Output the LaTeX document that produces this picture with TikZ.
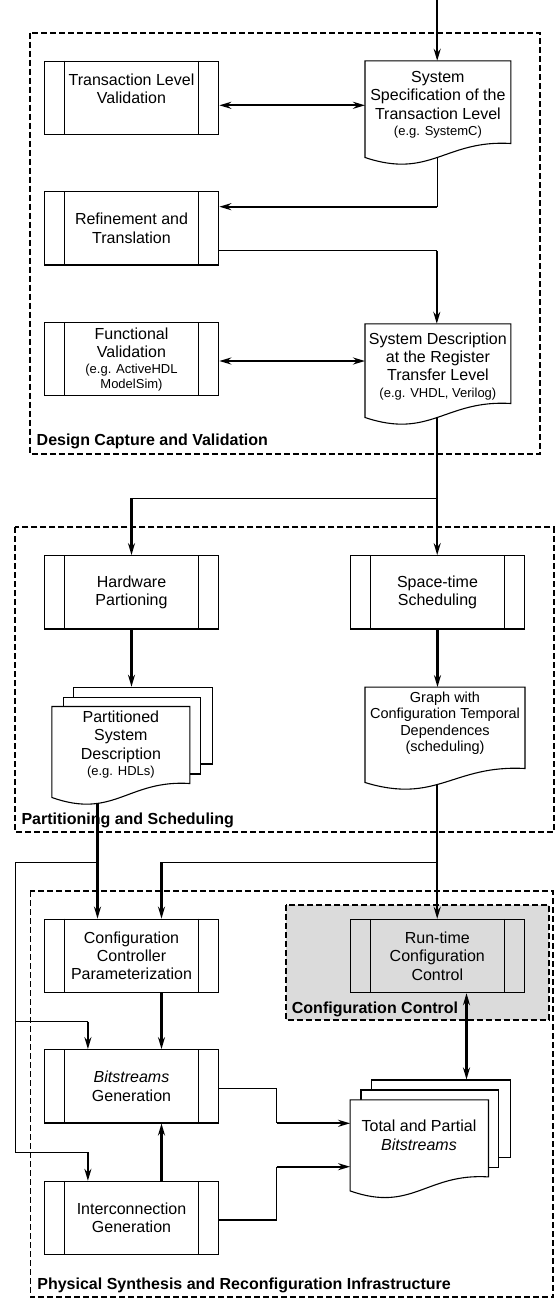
\documentclass[tikz,border=0pt]{standalone}
\usepackage{fontspec}
\setmainfont{Liberation Sans}
\usetikzlibrary{arrows.meta,calc}
\pgfdeclarelayer{bg}
\pgfsetlayers{bg,main}
\newcommand\smalltxt{\fontsize{13}{15}\selectfont}
\newcommand\wavedoc[1]{%
  \draw[docline] (#1.north west) -- (#1.north east) -- (#1.south east)
    .. controls ($(#1.south west)!0.55!(#1.south east)+(0,-4)$) and ($(#1.south west)!0.45!(#1.south east)+(0,36)$) .. ($(#1.south west)+(0,14)$) -- cycle;}
\tikzset{
  proc/.style={draw, line width=1.1pt, minimum width=174.5pt, minimum height=73.3pt, inner sep=0pt, align=center, font=\fontsize{16}{18.4}\selectfont},
  sheet/.style={draw, fill=white, line width=1.1pt, inner sep=0pt},
  docbox/.style={inner sep=0pt},
  docline/.style={draw, fill=white, line width=1.1pt},
  doctext/.style={align=center, inner sep=0pt, anchor=north, font=\fontsize{16}{18.4}\selectfont},
  grp/.style={draw, line width=1.8pt, dash pattern=on 6pt off 3pt},
  grplabel/.style={anchor=west, inner sep=0pt, font=\bfseries\fontsize{16}{18.4}\selectfont},
  thk/.style={line width=2.2pt},
  thn/.style={line width=1.2pt},
  sidebar/.style={line width=1.1pt}
}
\begin{document}
\begin{tikzpicture}[x=1pt,y=-1pt,>={Stealth[length=12pt,width=7pt,inset=4pt]}]
\useasboundingbox (0,0) rectangle (556,1299);

% process boxes
\node[proc] (tlv) at (131.5,97.7) {Transaction Level\\Validation\\\mbox{}};
\node[proc] (ref) at (131.5,228.3) {Refinement and\\Translation};
\node[proc] (fv) at (131.5,359.2) {Functional\\Validation\\[-2pt]{\smalltxt (e.g. ActiveHDL}\\[-4pt]{\smalltxt ModelSim)}};
\node[proc] (hw) at (131.5,592.3) {Hardware\\Partioning};
\node[proc] (st) at (437.5,592.3) {Space-time\\Scheduling};
\node[proc] (ccp) at (131.5,955.8) {Configuration\\Controller\\Parameterization};
\node[proc] (rt) at (437.3,956.0) {Run-time\\Configuration\\Control};
\node[proc] (bg) at (131.5,1086.3) {\textit{Bitstreams}\\Generation};
\node[proc] (ic) at (131.5,1218) {Interconnection\\Generation};
\foreach \n in {tlv,ref,fv,hw,st,ccp,rt,bg,ic}{
  \draw[sidebar] ([xshift=21pt]\n.north west) -- ([xshift=21pt]\n.south west);
  \draw[sidebar] ([xshift=-21pt]\n.north east) -- ([xshift=-21pt]\n.south east);
}

% documents
\node[docbox, minimum width=145.4pt, minimum height=82.3pt] (spec) at (437.9,102.15) {};
\wavedoc{spec}
\node[doctext] (spect) at (437.9,71) {System\\Specification of the\\Transaction Level\\[-2pt]{\smalltxt (e.g. SystemC)}};

\node[docbox, minimum width=145.4pt, minimum height=79.3pt] (rtl) at (437.9,363.65) {};
\wavedoc{rtl}
\node[doctext] (rtlt) at (437.9,332.3) {System Description\\at the Register\\Transfer Level\\[-2pt]{\smalltxt (e.g. VHDL, Verilog)}};

\node[docbox, minimum width=159.6pt, minimum height=81pt] (graph) at (445,727.8) {};
\wavedoc{graph}
\node[doctext, font=\fontsize{14.5}{16.5}\selectfont] (grapht) at (445,691.5) {Graph with\\Configuration Temporal\\Dependences\\(scheduling)};

\node[sheet, minimum width=138.3pt, minimum height=76.7pt] (partb) at (142.95,725.65) {};
\node[sheet, minimum width=137.2pt, minimum height=76.7pt] (partm) at (131.7,735.65) {};
\node[docbox, minimum width=137.6pt, minimum height=76.6pt] (partf) at (120.9,745) {};
\wavedoc{partf}
\node[doctext] (partt) at (120.9,710.7) {Partitioned\\System\\Description\\[-2pt]{\smalltxt (e.g. HDLs)}};

\node[sheet, minimum width=139pt, minimum height=77.3pt] (totb) at (441.1,1118.65) {};
\node[sheet, minimum width=137.2pt, minimum height=77.3pt] (totm) at (429.6,1128.65) {};
\node[docbox, minimum width=138pt, minimum height=76.7pt] (totf) at (419.3,1138.35) {};
\wavedoc{totf}
\node[doctext] (tott) at (419,1120) {Total and Partial\\\textit{Bitstreams}};

% group labels
\node[grplabel] (l1) at (36.5,441.7) {Design Capture and Validation};
\node[grplabel] (l2) at (21.3,820) {Partitioning and Scheduling};
\node[grplabel] (l3) at (291.7,1009) {Configuration Control};
\node[grplabel] (l4) at (37.2,1285.7) {Physical Synthesis and Reconfiguration Infrastructure};

\begin{pgfonlayer}{bg}
  \draw[grp] (30.1,32.7) rectangle (539.7,454);
  \draw[grp] (14.9,527.3) rectangle (553.9,832);
  \draw[grp] (30.4,891) rectangle (553.3,1297.3);
  \draw[grp, fill=black!14] (285.7,905) rectangle (549,1020);

  % connectors
  \coordinate (top) at (437.2,0);
  \draw[thk,->] (top) -- (top |- spec.north);

  \coordinate (a1) at ([yshift=-7.6pt]tlv.east);
  \draw[thk,<->] (a1) -- (a1 -| spec.west);

  \coordinate (b1) at (437.2,206.7);
  \draw[thn] (spec.south -| b1) -- (b1);
  \draw[thk,->] (b1) -- (b1 -| ref.east);

  \coordinate (b2) at (436.8,250.7);
  \draw[thn] (b2 -| ref.east) -- (b2);
  \draw[thk,->] (b2) -- (b2 |- rtl.north);

  \coordinate (a2) at ([yshift=-1.8pt]fv.east);
  \draw[thk,<->] (a2) -- (a2 -| rtl.west);

  \draw[thk,->] (rtl.south -| top) -- (top |- st.north);
  \coordinate (b3) at (437.2,498.3);
  \draw[thn] (b3) -- (b3 -| hw.north);
  \draw[thk,->] (b3 -| hw.north) -- (hw.north);

  \draw[thk,->] (hw.south) -- (hw.south |- partb.north);
  \draw[thk,->] (st.south) -- (st.south |- graph.north);

  \coordinate (c1) at (97.5,862.3);
  \draw[thk,->] (partf.south -| c1) -- (c1 |- ccp.north);
  \coordinate (c2) at (15.5,862.3);
  \coordinate (c3) at (15.5,1152.3);
  \coordinate (c4) at (87.9,1152.3);
  \coordinate (c5) at (15.5,1021.7);
  \coordinate (c6) at (87.9,1021.7);
  \draw[thn] (c1) -- (c2) -- (c3) -- (c4);
  \draw[thk,->] (c4) -- (c4 |- ic.north);
  \draw[thn] (c5) -- (c6);
  \draw[thk,->] (c6) -- (c6 |- bg.north);

  \draw[thk,->] (graph.south -| top) -- (top |- rt.north);
  \coordinate (d1) at (437.2,862.3);
  \coordinate (d2) at (161.5,862.3);
  \draw[thn] (d1) -- (d2);
  \draw[thk,->] (d2) -- (d2 |- ccp.north);
  \draw[thk,->] (ccp.south -| d2) -- (d2 |- bg.north);
  \draw[thk,->] (ic.north -| d2) -- (d2 |- bg.south);

  \coordinate (e1) at ([xshift=29.2pt]rt.south);
  \draw[thk,<->] (e1) -- (e1 |- totb.north);

  \coordinate (f1) at ([yshift=-2pt]bg.east);
  \coordinate (f2) at (276.6,1088.3);
  \coordinate (f3) at (276.6,1123.3);
  \draw[thn] (f1) -- (f2) -- (f3);
  \draw[thk,->] (f3) -- (f3 -| totf.west);

  \coordinate (g1) at ([yshift=-2pt]ic.east);
  \coordinate (g2) at (276.6,1220);
  \coordinate (g3) at (276.6,1166.7);
  \draw[thn] (g1) -- (g2) -- (g3);
  \draw[thk,->] (g3) -- (g3 -| totf.west);
\end{pgfonlayer}
\end{tikzpicture}
\end{document}
